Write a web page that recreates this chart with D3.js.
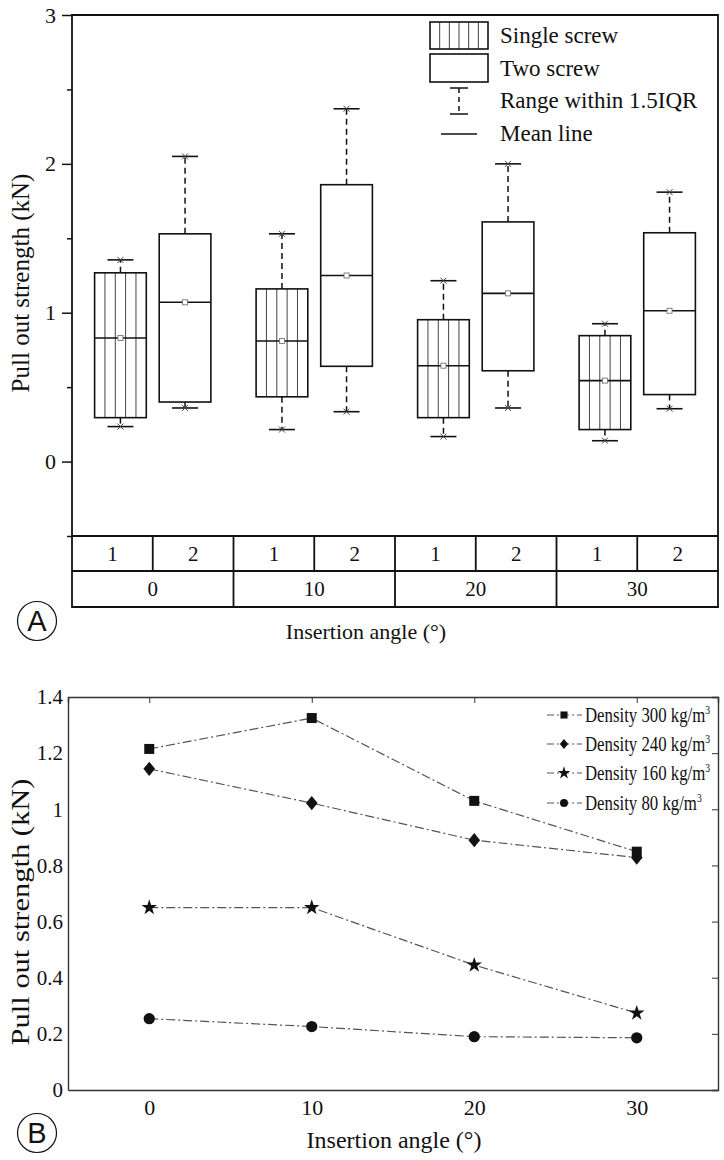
<!DOCTYPE html>
<html lang="en">
<head>
<meta charset="UTF-8">
<script src="https://d3js.org/d3.v7.min.js"></script>
<style>
  body { margin: 0; background: #fff; }
  text { font-family: "Liberation Serif", "Times New Roman", serif; fill: #111; }
  .panel-tag { font-family: "Liberation Sans", "DejaVu Sans", sans-serif; }
</style>
</head>
<body>
<svg id="chart" width="724" height="1160"></svg>
<script>
// ---- panel A data: box stats per angle / screw count
const angles = ["0", "10", "20", "30"];
const screws = ["1", "2"];
const boxKeys = ["0-1", "0-2", "10-1", "10-2", "20-1", "20-2", "30-1", "30-2"];
const whiskerLow = [0.235, 0.36, 0.215, 0.335, 0.168, 0.36, 0.14, 0.355];
const boxLow = [0.295, 0.40, 0.435, 0.64, 0.295, 0.61, 0.215, 0.45];
const meanVal = [0.83, 1.07, 0.81, 1.25, 0.644, 1.13, 0.544, 1.013];
const boxHigh = [1.268, 1.53, 1.16, 1.86, 0.953, 1.61, 0.846, 1.537];
const whiskerHigh = [1.355, 2.05, 1.53, 2.37, 1.215, 2.0, 0.926, 1.81];
const legendA = ["Single screw", "Two screw", "Range within 1.5IQR", "Mean line"];

// ---- panel B data: mean pull out strength by density
const insertion = [0, 10, 20, 30];
const densities = ["300", "240", "160", "80"];
const d300 = [1.215, 1.325, 1.03, 0.849];
const d240 = [1.144, 1.022, 0.89, 0.828];
const d160 = [0.65, 0.65, 0.445, 0.274];
const d80 = [0.254, 0.226, 0.19, 0.186];
const yTicksB = [0, 0.2, 0.4, 0.6, 0.8, 1, 1.2, 1.4];

const svg = d3.select("#chart");
const ink = "#111";

// ================= PANEL A =================
const A = svg.append("g");
const xA = d3.scaleBand().domain(angles).range([72, 718]);
const subA = d3.scalePoint().domain(screws).range([0, xA.bandwidth()]).padding(0.75);
const yA = d3.scaleLinear().domain([-0.5, 3]).range([536, 15]);
const boxW = xA.bandwidth() * 0.32;

// axis with major and minor ticks
A.append("g").attr("transform", "translate(72,0)")
  .call(d3.axisLeft(yA).tickValues([-0.5, 0.5, 1.5, 2.5]).tickSize(5).tickFormat(""))
  .call(g => g.select(".domain").remove())
  .call(g => g.selectAll("line").attr("stroke", ink).attr("stroke-width", 1.5));
A.append("g").attr("transform", "translate(72,0)")
  .call(d3.axisLeft(yA).tickValues([0, 1, 2, 3]).tickSize(10).tickPadding(6).tickFormat(d3.format("d")))
  .call(g => g.select(".domain").remove())
  .call(g => g.selectAll("line").attr("stroke", ink).attr("stroke-width", 1.5))
  .call(g => g.selectAll("text").attr("font-size", 22).attr("font-family", "Liberation Serif").attr("fill", ink));

// frame + table
const tableY = [536, 571, 607];
A.append("path")
  .attr("d", `M72,15H718V607H72Z`)
  .attr("fill", "none").attr("stroke", ink).attr("stroke-width", 1.8);
tableY.forEach(y => A.append("line").attr("x1", 72).attr("x2", 718).attr("y1", y).attr("y2", y)
  .attr("stroke", ink).attr("stroke-width", 1.8));
angles.forEach((a, i) => {
  const x0 = xA(a);
  if (i > 0) A.append("line").attr("x1", x0).attr("x2", x0).attr("y1", 536).attr("y2", 607)
    .attr("stroke", ink).attr("stroke-width", 1.8);
  const mid = x0 + xA.bandwidth() / 2;
  A.append("line").attr("x1", mid).attr("x2", mid).attr("y1", 536).attr("y2", 571)
    .attr("stroke", ink).attr("stroke-width", 1.8);
  screws.forEach((s, j) => {
    A.append("text").attr("x", x0 + xA.bandwidth() * (j * 2 + 1) / 4).attr("y", 553.5)
      .attr("dy", "0.35em").attr("text-anchor", "middle").attr("font-size", 21).text(s);
  });
  A.append("text").attr("x", mid).attr("y", 589).attr("dy", "0.35em")
    .attr("text-anchor", "middle").attr("font-size", 21).text(a);
});

// boxes
const boxes = boxKeys.map((k, i) => {
  const [a, s] = k.split("-");
  return { a, s, lo: whiskerLow[i], q1: boxLow[i], mean: meanVal[i], q3: boxHigh[i], hi: whiskerHigh[i] };
});

function drawCap(g, cx, y) {
  g.append("line").attr("x1", cx - 13).attr("x2", cx + 13).attr("y1", y).attr("y2", y)
    .attr("stroke", ink).attr("stroke-width", 1.6);
  g.append("path").attr("d", `M${cx - 3},${y - 3}L${cx + 3},${y + 3}M${cx - 3},${y + 3}L${cx + 3},${y - 3}`)
    .attr("stroke", "#444").attr("stroke-width", 1);
}

function hatch(g, x, y, w, h, n) {
  for (let i = 1; i < n; i++) {
    g.append("line").attr("x1", x + w * i / n).attr("x2", x + w * i / n)
      .attr("y1", y).attr("y2", y + h).attr("stroke", "#444").attr("stroke-width", 1);
  }
}

boxes.forEach(d => {
  const g = A.append("g");
  const cx = xA(d.a) + subA(d.s);
  // whiskers
  g.append("line").attr("x1", cx).attr("x2", cx).attr("y1", yA(d.q3)).attr("y2", yA(d.hi))
    .attr("stroke", ink).attr("stroke-width", 1.5).attr("stroke-dasharray", "6,4");
  g.append("line").attr("x1", cx).attr("x2", cx).attr("y1", yA(d.q1)).attr("y2", yA(d.lo))
    .attr("stroke", ink).attr("stroke-width", 1.5).attr("stroke-dasharray", "6,4");
  drawCap(g, cx, yA(d.hi));
  drawCap(g, cx, yA(d.lo));
  const bx = cx - boxW / 2, by = yA(d.q3), bh = yA(d.q1) - yA(d.q3);
  g.append("rect").attr("x", bx).attr("y", by).attr("width", boxW).attr("height", bh)
    .attr("fill", "#fff");
  if (d.s === "1") hatch(g, bx, by, boxW, bh, 5);
  g.append("rect").attr("x", bx).attr("y", by).attr("width", boxW).attr("height", bh)
    .attr("fill", "none").attr("stroke", ink).attr("stroke-width", 1.6);
  g.append("line").attr("x1", bx).attr("x2", bx + boxW).attr("y1", yA(d.mean)).attr("y2", yA(d.mean))
    .attr("stroke", ink).attr("stroke-width", 1.6);
  g.append("rect").attr("x", cx - 2.5).attr("y", yA(d.mean) - 2.5).attr("width", 5).attr("height", 5)
    .attr("fill", "#fff").attr("stroke", "#777").attr("stroke-width", 0.9);
});

// legend A
const legA = A.append("g");
const rowsA = [35, 68, 100, 133];
legA.append("rect").attr("x", 430).attr("y", 22).attr("width", 58).attr("height", 27).attr("fill", "#fff");
hatch(legA, 430, 22, 58, 27, 6);
legA.append("rect").attr("x", 430).attr("y", 22).attr("width", 58).attr("height", 27)
  .attr("fill", "none").attr("stroke", ink).attr("stroke-width", 1.6);
legA.append("rect").attr("x", 430).attr("y", 54).attr("width", 58).attr("height", 28)
  .attr("fill", "none").attr("stroke", ink).attr("stroke-width", 1.6);
legA.append("line").attr("x1", 450).attr("x2", 468).attr("y1", 88).attr("y2", 88).attr("stroke", ink).attr("stroke-width", 1.5);
legA.append("line").attr("x1", 450).attr("x2", 468).attr("y1", 114).attr("y2", 114).attr("stroke", ink).attr("stroke-width", 1.5);
legA.append("line").attr("x1", 459).attr("x2", 459).attr("y1", 88).attr("y2", 114)
  .attr("stroke", ink).attr("stroke-width", 1.5).attr("stroke-dasharray", "5,4");
legA.append("line").attr("x1", 441).attr("x2", 477).attr("y1", 134).attr("y2", 134).attr("stroke", ink).attr("stroke-width", 1.5);
legendA.forEach((t, i) => legA.append("text").attr("x", 500).attr("y", rowsA[i]).attr("dy", "0.33em")
  .attr("font-size", 23).text(t));

// labels A
A.append("text").attr("transform", "translate(29,283) rotate(-90)").attr("text-anchor", "middle")
  .attr("font-size", 25).text("Pull out strength (kN)");
A.append("text").attr("x", 366).attr("y", 639).attr("text-anchor", "middle")
  .attr("font-size", 22).text("Insertion angle (°)");
A.append("circle").attr("cx", 37).attr("cy", 621).attr("r", 19.5).attr("fill", "none")
  .attr("stroke", ink).attr("stroke-width", 1.2);
A.append("text").attr("class", "panel-tag").attr("x", 37).attr("y", 621).attr("dy", "0.36em")
  .attr("text-anchor", "middle").attr("font-size", 29).text("A");

// ================= PANEL B =================
const B = svg.append("g");
const xB = d3.scaleLinear().domain([-5, 35]).range([68, 718]);
const yB = d3.scaleLinear().domain([0, 1.4]).range([1090, 697]);
const axisCol = "#333";
const fmt = d => String(+d.toFixed(1));

B.append("g").attr("transform", "translate(68,0)")
  .call(d3.axisLeft(yB).tickValues(yTicksB).tickSize(0).tickPadding(5).tickFormat(fmt))
  .call(g => g.select(".domain").attr("stroke", axisCol).attr("stroke-width", 1.4))
  .call(g => g.selectAll("text").attr("font-size", 21).attr("font-family", "Liberation Serif").attr("fill", ink));
B.append("g").attr("transform", "translate(718,0)")
  .call(d3.axisRight(yB).tickValues(yTicksB).tickSize(-6).tickFormat(""))
  .call(g => g.select(".domain").attr("stroke", axisCol).attr("stroke-width", 1.4))
  .call(g => g.selectAll("line").attr("stroke", axisCol));
B.append("g").attr("transform", "translate(0,1090)")
  .call(d3.axisBottom(xB).tickValues(insertion).tickSize(0).tickPadding(9).tickFormat(d3.format("d")))
  .call(g => g.select(".domain").attr("stroke", axisCol).attr("stroke-width", 1.4))
  .call(g => g.selectAll("text").attr("font-size", 22).attr("font-family", "Liberation Serif").attr("fill", ink));
B.append("g").attr("transform", "translate(0,697)")
  .call(d3.axisTop(xB).tickValues(insertion).tickSize(-6).tickFormat(""))
  .call(g => g.select(".domain").attr("stroke", axisCol).attr("stroke-width", 1.4))
  .call(g => g.selectAll("line").attr("stroke", axisCol));

// rhombus a bit wider than d3's diamond
const rhombus = {
  draw(ctx, size) {
    const h = Math.sqrt(size / 1.6) * 0.9, w = h * 0.82;
    ctx.moveTo(0, -h); ctx.lineTo(w, 0); ctx.lineTo(0, h); ctx.lineTo(-w, 0); ctx.closePath();
  }
};

const seriesB = [
  { name: densities[0], vals: d300, sym: d3.symbolSquare, size: 100 },
  { name: densities[1], vals: d240, sym: rhombus, size: 100 },
  { name: densities[2], vals: d160, sym: d3.symbolStar, size: 75 },
  { name: densities[3], vals: d80, sym: d3.symbolCircle, size: 100 }
];
const lineB = d3.line().x((v, i) => xB(insertion[i])).y(v => yB(v));
const dashB = "9,3,2,3";

seriesB.forEach(s => {
  B.append("path").attr("d", lineB(s.vals)).attr("fill", "none")
    .attr("stroke", "#555").attr("stroke-width", 1.2).attr("stroke-dasharray", dashB);
  B.selectAll(null).data(s.vals).join("path")
    .attr("transform", (v, i) => `translate(${xB(insertion[i])},${yB(v)})`)
    .attr("d", d3.symbol(s.sym, s.size)).attr("fill", ink);
});

// legend B
const rowsB = [715, 744, 773, 803];
seriesB.forEach((s, i) => {
  const g = B.append("g").attr("transform", `translate(0,${rowsB[i]})`);
  g.append("line").attr("x1", 547).attr("x2", 582).attr("y1", 0).attr("y2", 0)
    .attr("stroke", "#555").attr("stroke-width", 1.2).attr("stroke-dasharray", "7,3,2,3");
  g.append("path").attr("transform", "translate(564,0)").attr("d", d3.symbol(s.sym, 50)).attr("fill", ink);
  const t = g.append("text").attr("transform", "translate(585,0) scale(0.8,1)").attr("dy", "0.33em")
    .attr("font-size", 21);
  t.append("tspan").text(`Density ${s.name} kg/m`);
  t.append("tspan").attr("font-size", 12).attr("dy", "-0.7em").text("3");
});

// labels B
B.append("text").attr("transform", "translate(29,912) rotate(-90) scale(1.22,1)").attr("text-anchor", "middle")
  .attr("font-size", 25).text("Pull out strength (kN)");
B.append("text").attr("x", 394).attr("y", 1148).attr("text-anchor", "middle")
  .attr("font-size", 24).text("Insertion angle (°)");
B.append("circle").attr("cx", 37).attr("cy", 1133).attr("r", 19.5).attr("fill", "none")
  .attr("stroke", ink).attr("stroke-width", 1.2);
B.append("text").attr("class", "panel-tag").attr("x", 37).attr("y", 1133).attr("dy", "0.36em")
  .attr("text-anchor", "middle").attr("font-size", 29).text("B");
</script>
</body>
</html>
